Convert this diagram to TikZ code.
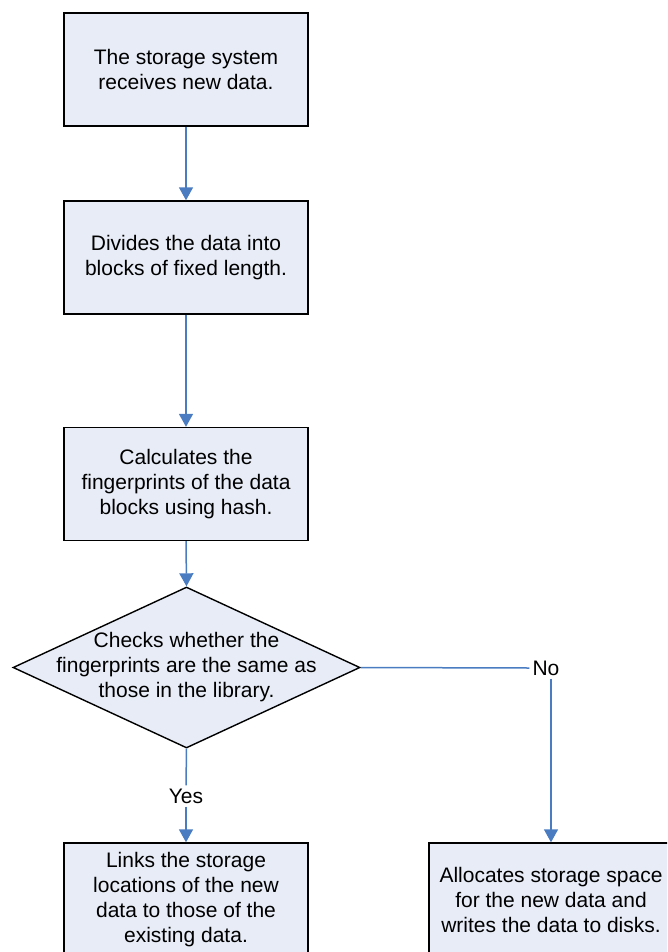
\documentclass[tikz,border=0pt]{standalone}
\usepackage{fontspec}
\setmainfont{Liberation Sans}
\usetikzlibrary{arrows.meta,shapes.geometric}
\definecolor{boxfill}{RGB}{231,236,246}
\definecolor{linkblue}{RGB}{74,124,194}
\tikzset{
  stepbox/.style={draw=black, line width=1.4pt, fill=boxfill, minimum width=244pt, minimum height=113pt, inner sep=0pt, align=center, font=\fontsize{21}{25}\selectfont},
  decision/.style={draw=black, line width=1.4pt, fill=boxfill, diamond, minimum width=347pt, minimum height=161pt, inner sep=0pt},
  dtext/.style={align=center, font=\fontsize{21}{25}\selectfont, inner sep=0pt},
  lbl/.style={font=\fontsize{21}{25}\selectfont, inner sep=3pt, fill=white},
  link/.style={draw=linkblue, line width=1.5pt, -{Triangle[width=14pt,length=13pt]}},
  plain/.style={draw=linkblue, line width=1.5pt}
}
\begin{document}
\begin{tikzpicture}[x=1pt,y=-1pt]
\useasboundingbox (0,0) rectangle (667,952);
\clip (0,0) rectangle (667,952);
\node[stepbox] (b1) at (186,69.5) {The storage system\\receives new data.};
\node[stepbox] (b2) at (186,257.5) {Divides the data into\\blocks of fixed length.};
\node[stepbox] (b3) at (186,484) {Calculates the\\fingerprints of the data\\blocks using hash.};
\node[decision] (d) at (186.5,667.5) {};
\node[dtext] (dt) at (d.center) {Checks whether the\\fingerprints are the same as\\those in the library.};
\node[stepbox] (b4) at (186,899.5) {Links the storage\\locations of the new\\data to those of the\\existing data.};
\node[stepbox] (b5) at (551,899.5) {Allocates storage space\\for the new data and\\writes the data to disks.};
\node[lbl] (yes) at (186,796) {Yes};
\node[lbl] (no) at (546,668) {No};
\draw[link] (b1.south) -- (b2.north);
\draw[link] (b2.south) -- (b3.north);
\draw[link] (b3.south) -- (d.north);
\draw[plain] (d.south) -- (yes.north);
\draw[link] (yes.south) -- (b4.north);
\draw[plain] (d.east) -- (no.west);
\draw[link] (b5.north |- no.south) -- (b5.north);
\end{tikzpicture}
\end{document}
